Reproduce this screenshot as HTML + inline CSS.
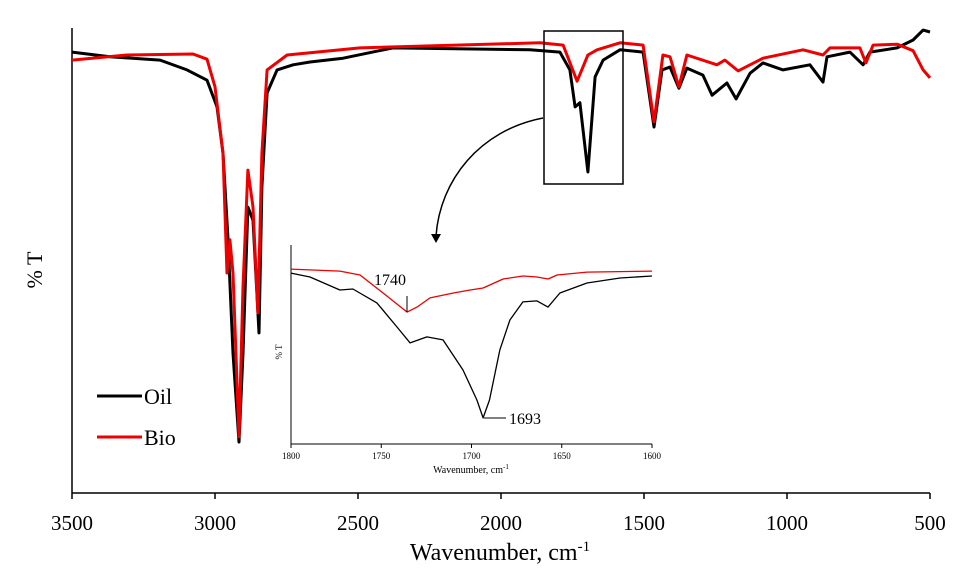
<!DOCTYPE html>
<html><head><meta charset="utf-8"><style>
body{margin:0;background:#fff;font-family:"Liberation Serif",serif}
svg text{font-family:"Liberation Serif",serif}
</style></head><body>
<svg id="chart" width="967" height="581" viewBox="0 0 967 581" xmlns="http://www.w3.org/2000/svg">
<g id="main"></g>
<g id="inset"></g>
<rect x="544" y="31" width="79" height="153" fill="none" stroke="#000" stroke-width="1.5"/>
<path d="M543,118 C480,130 440,180 436,236" fill="none" stroke="#000" stroke-width="1.5"/>
<polygon points="431,234 441,234 436,243" fill="#000"/>
<text transform="translate(42,270) rotate(-90)" font-size="22" text-anchor="middle">% T</text>
<text x="500" y="560" font-size="24" text-anchor="middle">Wavenumber, cm<tspan font-size="15" dy="-9">-1</tspan></text>
<g>
<line x1="97" y1="396" x2="142" y2="396" stroke="#000" stroke-width="3"/>
<text x="144" y="404" font-size="22">Oil</text>
<line x1="97" y1="437" x2="142" y2="437" stroke="#e00" stroke-width="3"/>
<text x="144" y="445" font-size="22">Bio</text>
</g>
<line x1="407" y1="296" x2="407" y2="312" stroke="#000" stroke-width="1"/>
<text x="390" y="285" font-size="16" text-anchor="middle">1740</text>
<line x1="484" y1="418" x2="506" y2="418" stroke="#000" stroke-width="1"/>
<text x="509" y="424" font-size="16">1693</text>
<text transform="translate(282,352) rotate(-90)" font-size="9" text-anchor="middle">% T</text>
<text x="471" y="473" font-size="10" text-anchor="middle">Wavenumber, cm<tspan font-size="7" dy="-4">-1</tspan></text>
</svg>
<script>
const mainTicks=[3500,3000,2500,2000,1500,1000,500];
const oilWn=[3500,3367,3192,3098,3063,3028,2993,2972,2955,2937,2916,2902,2885,2867,2846,2836,2818,2783,2727,2668,2552,2378,1899,1794,1759,1741,1724,1696,1671,1643,1584,1503,1465,1437,1409,1378,1350,1294,1262,1210,1178,1129,1084,1014,920,874,860,780,734,710,615,559,524,500];
const oilT=[94.2,93.2,92.5,90.4,89.3,88.2,82.5,72.6,54.7,29.9,10.9,29.9,61.1,58.3,34.2,65.4,85.5,90.4,91.5,92.1,92.9,95.1,94.7,94.2,90.4,82.5,83.4,68.6,88.9,92.5,94.7,94.2,78.2,90.4,91.0,86.5,90.8,89.3,85.0,87.6,84.2,89.7,91.9,90.4,91.5,87.8,93.2,94.2,91.5,94.2,95.1,96.8,98.9,98.5];
const bioWn=[3500,3308,3077,3028,3000,2972,2958,2948,2937,2916,2902,2885,2867,2850,2836,2818,2748,2493,1864,1783,1734,1696,1664,1584,1503,1465,1434,1409,1378,1350,1245,1217,1171,1084,944,874,850,745,724,699,615,559,524,500];
const bioT=[92.5,93.6,93.8,92.7,86.8,72.6,47.0,54.1,47.0,12.0,44.0,69.0,61.1,38.5,72.6,90.4,93.6,95.1,96.2,95.7,88.0,93.6,94.7,96.2,95.7,79.3,93.6,93.2,86.8,93.6,91.5,92.5,90.2,92.9,94.7,93.6,95.1,95.1,91.9,95.7,95.9,94.5,90.4,88.7];
const insetTicks=[1800,1750,1700,1650,1600];
const inOilWn=[1800,1789.5,1772.9,1765.7,1752.4,1741.3,1734,1724.7,1715.8,1704.7,1697,1693.6,1690,1684.3,1678.7,1671.5,1663.7,1657.6,1651,1636,1617.7,1600];
const inOilT=[85.9,83.9,77.4,77.9,70.9,58.8,50.8,53.8,52.3,37.2,22.1,13.1,22.1,47.2,62.3,71.4,71.9,68.8,75.9,80.9,83.4,84.4];
const inBioWn=[1800,1772.9,1761.8,1749,1735.7,1730.2,1723,1710,1700.8,1693.6,1682.5,1671.5,1663.7,1657.6,1652.6,1636,1600];
const inBioT=[87.9,86.9,84.9,75.9,66.3,68.8,73.4,75.9,77.4,78.4,82.9,84.4,83.9,82.9,84.9,86.4,86.9];
const NS="http://www.w3.org/2000/svg";
function mk(tag,attrs,parent){const e=document.createElementNS(NS,tag);for(const k in attrs)e.setAttribute(k,attrs[k]);parent.appendChild(e);return e;}
const mx=w=>72+(3500-w)*(858/3000), my=t=>493-t*4.68;
const main=document.getElementById('main');
let a=mk('line',{x1:72,y1:28,x2:72,y2:493,stroke:'#000','stroke-width':1.5},main);


a=mk('line',{x1:72,y1:493,x2:930,y2:493,stroke:'#000','stroke-width':1.5},main);


mainTicks.forEach(v=>{const t=mk('line',{x1:mx(v),y1:493,x2:mx(v),y2:499,stroke:'#000','stroke-width':1.5},main);


const l=mk('text',{x:mx(v),y:530,'font-size':21,'text-anchor':'middle'},main);l.textContent=v;

});
function line(wn,T,fx,fy,col,w,parent,name){const d=wn.map((v,i)=>(i?'L':'M')+fx(v).toFixed(1)+','+fy(T[i]).toFixed(1)).join('');
const p=mk('path',{d:d,fill:'none',stroke:col,'stroke-width':w,'stroke-linejoin':'round'},parent);

}
line(oilWn,oilT,mx,my,'#000',3,main,'oil-line');
line(bioWn,bioT,mx,my,'#e00',3,main,'bio-line');
const ix=w=>291+(1800-w)*(361/200), iy=t=>444-t*1.99;
const ins=document.getElementById('inset');
mk('rect',{x:291,y:245,width:361,height:199,fill:'#fff'},ins);
a=mk('line',{x1:291,y1:245,x2:291,y2:444,stroke:'#000','stroke-width':1},ins);


a=mk('line',{x1:291,y1:444,x2:652,y2:444,stroke:'#000','stroke-width':1},ins);


insetTicks.forEach(v=>{const t=mk('line',{x1:ix(v),y1:444,x2:ix(v),y2:448,stroke:'#000','stroke-width':1},ins);


const l=mk('text',{x:ix(v),y:459,'font-size':9,'text-anchor':'middle'},ins);l.textContent=v;

});
line(inBioWn,inBioT,ix,iy,'#e00',1.3,ins,'inset-bio-line');
line(inOilWn,inOilT,ix,iy,'#000',1.3,ins,'inset-oil-line');
</script>
</body></html>
